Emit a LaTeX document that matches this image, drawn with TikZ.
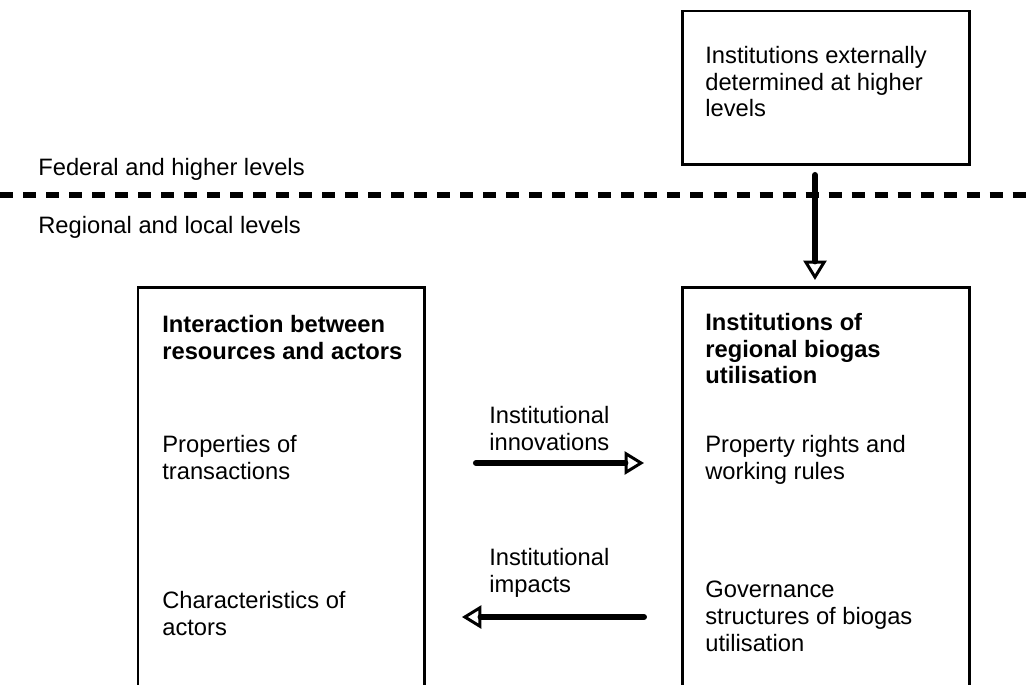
\documentclass[tikz,border=0pt]{standalone}
\usepackage{fontspec}
\setmainfont{Liberation Sans}
\usetikzlibrary{arrows.meta}

\tikzset{
  box/.style={draw, line width=1.7pt, outer sep=0pt, inner sep=0pt, anchor=north west},
  txt/.style={anchor=north west, inner sep=0pt, align=left, font=\fontsize{13.5}{15.2}\selectfont},
  flow/.style={line width=3.4pt, line cap=round, -{Triangle[open, line width=1.7pt, length=11pt, width=13pt]}},
  levelline/.style={line width=3.6pt, dash pattern=on 7.4pt off 5.7pt}
}

\begin{document}
\begin{tikzpicture}[x=0.02cm, y=-0.02cm]
    \clip (0,0) rectangle (1028,684);
    % boxes
    \node (ext) at (682,11) [box, minimum width=5.76cm, minimum height=3.08cm] {};
    \node (inter) at (138,287) [box, minimum width=5.74cm, minimum height=9cm] {};
    \node (inst) at (682,287) [box, minimum width=5.76cm, minimum height=9cm] {};
    % levels
    \node (fed) at (38,158) [txt] {Federal and higher levels};
    \node (reg) at (38,216) [txt] {Regional and local levels};
    \draw [levelline] (0,195) -- (1028,195);
    % texts in boxes
    \node (extT) at (705,46) [txt] {Institutions externally\\determined at higher\\levels};
    \node (interH) at (162,315) [txt, font=\fontsize{13.5}{15.2}\selectfont\bfseries] {Interaction between\\resources and actors};
    \node (prop) at (162,435) [txt] {Properties of\\transactions};
    \node (chars) at (162,591) [txt] {Characteristics of\\actors};
    \node (instH) at (705,313) [txt, font=\fontsize{13.5}{15.2}\selectfont\bfseries] {Institutions of\\regional biogas\\utilisation};
    \node (rules) at (705,435) [txt] {Property rights and\\working rules};
    \node (gov) at (705,581) [txt] {Governance\\structures of biogas\\utilisation};
    \node (innov) at (489,406) [txt] {Institutional\\innovations};
    \node (impact) at (489,548) [txt] {Institutional\\impacts};
    % arrows
    \draw [flow] ([shift={(-11,10)}]ext.south) -- ([shift={(-11,-7)}]inst.north);
    \draw [flow] ([shift={(51,176)}]inter.north east) -- ([shift={(-38,176)}]inst.north west);
    \draw [flow] ([shift={(-38,330)}]inst.north west) -- ([shift={(37,330)}]inter.north east);
\end{tikzpicture}
\end{document}
